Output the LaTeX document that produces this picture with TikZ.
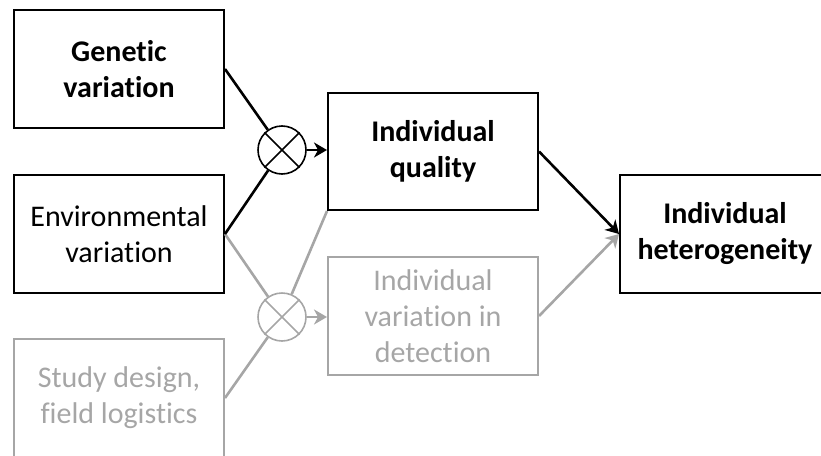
\documentclass[tikz,border=0pt]{standalone}
\usepackage{fontspec}
\setmainfont[Ligatures={NoCommon}]{Carlito}
\usetikzlibrary{arrows.meta}
\definecolor{lightgrey}{RGB}{166,166,166}
\begin{document}
\begin{tikzpicture}[x=1pt,y=-1pt,
  box/.style={draw, line width=2pt, minimum width=210pt, minimum height=118pt,
    inner sep=0pt, align=center, font=\fontsize{30}{36}\selectfont},
  boldbox/.style={box, font=\fontsize{30}{36}\selectfont\bfseries},
  greybox/.style={box, draw=lightgrey, text=lightgrey},
  mult/.style={draw, circle, line width=1.6pt, minimum size=48pt, inner sep=0pt},
  conn/.style={line width=2.6pt},
  arr/.style={conn, -{Stealth[length=13pt,width=15pt,inset=4pt]}},
  grey/.style={draw=lightgrey, color=lightgrey}]
\useasboundingbox (0,0) rectangle (821,455);
\clip (0,0) rectangle (821,455);
\node[boldbox] (gen) at (119,69) {Genetic\\variation};
\node[box] (env) at (119,234) {Environmental\\variation};
\node[greybox] (study) at (119,398) {Study design,\\field logistics};
\node[boldbox, minimum height=117pt] (qual) at (433,151.5) {Individual\\quality};
\node[greybox] (det) at (433,316) {Individual\\variation in\\detection};
\node[boldbox] (het) at (725,234) {Individual\\heterogeneity};
\node[mult] (c1) at (282,150) {};
\node[mult, grey] (c2) at (282,317) {};
\draw[line width=1.6pt] (c1.north west) -- (c1.south east) (c1.north east) -- (c1.south west);
\draw[line width=1.6pt, grey] (c2.north west) -- (c2.south east) (c2.north east) -- (c2.south west);
% grey connectors
\draw[conn, grey] (env.east) -- (c2);
\draw[conn, grey] (study.east) -- (c2);
\draw[conn, grey] (qual.south west) -- (c2);
\draw[arr, grey] (c2.east) -- (c2.east -| det.west);
\draw[arr, grey] (det.east) -- (het.west);
% black connectors
\draw[conn] (gen.east) -- (c1);
\draw[conn] (env.east) -- (c1);
\draw[arr] (c1.east) -- (c1.east -| qual.west);
\draw[arr] (qual.east) -- (het.west);
\end{tikzpicture}
\end{document}
